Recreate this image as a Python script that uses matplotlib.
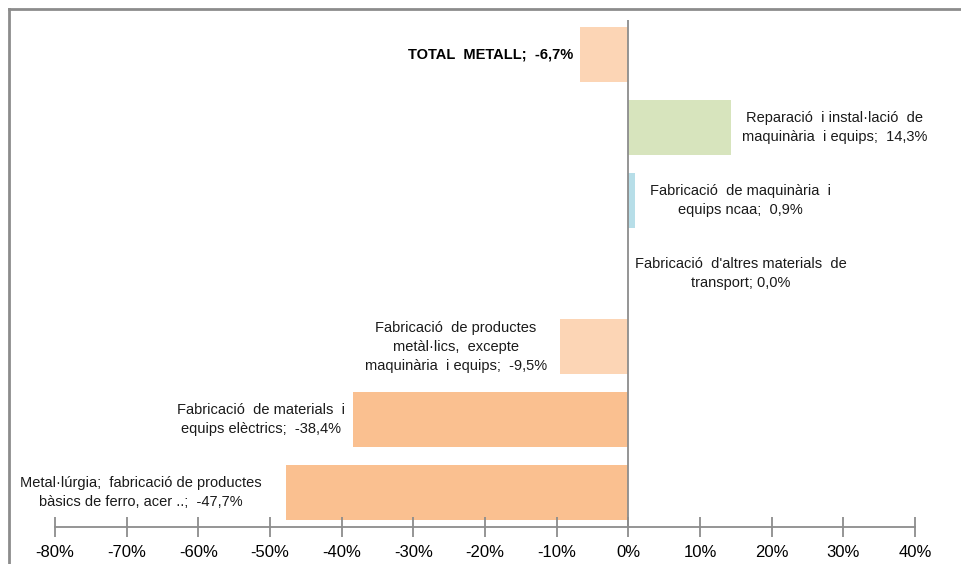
import matplotlib
matplotlib.use("Agg")
import matplotlib.pyplot as plt
from matplotlib.lines import Line2D
from matplotlib.ticker import FuncFormatter

plt.rcParams['font.family'] = ['Liberation Sans Narrow', 'Liberation Sans', 'DejaVu Sans']

# dades (de baix a dalt)
labels = [
    "Metal·lúrgia;  fabricació de productes\nbàsics de ferro, acer ..;  -47,7%",
    "Fabricació  de materials  i\nequips elèctrics;  -38,4%",
    "Fabricació  de productes\nmetàl·lics,  excepte\nmaquinària  i equips;  -9,5%",
    "Fabricació  d'altres materials  de\ntransport; 0,0%",
    "Fabricació  de maquinària  i\nequips ncaa;  0,9%",
    "Reparació  i instal·lació  de\nmaquinària  i equips;  14,3%",
    "TOTAL  METALL;  -6,7%",
]
values = [-47.7, -38.4, -9.5, 0.0, 0.9, 14.3, -6.7]
colors = ["#FAC090", "#FAC090", "#FCD5B5", "#FCD5B5", "#B7DEE8", "#D7E4BD", "#FCD5B5"]
xticks = [-80, -70, -60, -50, -40, -30, -20, -10, 0, 10, 20, 30, 40]

# posicio horitzontal de cada etiqueta
label_x = [-68.0, -51.3, -24.1, 15.7, 15.6, 28.8, -7.7]

fig = plt.figure(figsize=(9.62, 5.64), dpi=100)
ax = fig.add_axes([55/962, 37/564, 860/962, 507/564])

ypos = list(range(len(values)))
ax.barh(ypos, values, height=0.75, color=colors)
ax.axvline(0, color="#8c8c8c", lw=1.3)

for i, (lab, lx) in enumerate(zip(labels, label_x)):
    if i == len(labels) - 1:
        ax.text(lx, i, lab, ha="right", va="center", fontsize=10.5,
                fontweight="bold", color="#000000")
    else:
        ax.text(lx, i, lab, ha="center", va="center", fontsize=10.5,
                multialignment="center", color="#1a1a1a", linespacing=1.45)

ax.set_xlim(-80, 40)
ax.set_ylim(-0.47, 6.47)
ax.set_xticks(xticks)
ax.xaxis.set_major_formatter(FuncFormatter(lambda v, p: f"{v:.0f}%"))
ax.set_yticks([])
for s in ["top", "left", "right"]:
    ax.spines[s].set_visible(False)
ax.spines["bottom"].set_color("#8c8c8c")
ax.spines["bottom"].set_linewidth(1.3)
ax.tick_params(axis="x", direction="inout", length=14, width=1.3,
               color="#8c8c8c", labelsize=12, pad=6)

# marc del grafic
fig.add_artist(Line2D([9/962, 9/962], [0, 1 - 9/564], color="#8c8c8c", lw=2,
                      transform=fig.transFigure))
fig.add_artist(Line2D([9/962, 1], [1 - 9/564, 1 - 9/564], color="#8c8c8c", lw=2,
                      transform=fig.transFigure))

fig.savefig("out.png", dpi=100)
